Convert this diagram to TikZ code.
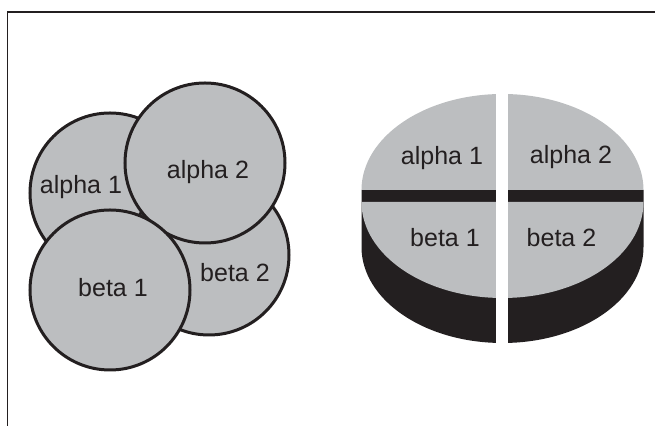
\documentclass[tikz,border=0pt]{standalone}
\usepackage{fontspec}
\setmainfont{Liberation Sans}
\usetikzlibrary{positioning}
\definecolor{ink}{HTML}{231F20}
\definecolor{disk}{HTML}{BCBEC0}

\begin{document}
\begin{tikzpicture}[x = .5pt, y = -.5pt, lbl/.style={inner sep = 1 pt, text = ink, font = \fontsize{12.5}{15}\selectfont}, cell/.style={fill = disk, draw = ink, line width = 1.5pt}]
\useasboundingbox (0,0) rectangle (655,426);
\draw[ink, line width = .75pt] (7.5,426) -- (7.5,12) -- (655,12);
%left: overlapping circles
\filldraw[cell] (110,193) circle (40pt);
\filldraw[cell] (209,255) circle (40pt);
\filldraw[cell] (205,163) circle (40pt);
\filldraw[cell] (110,290) circle (40pt);
\path (81,187) node[lbl] (la1) {alpha 1};
\path (208,172) node[lbl] (la2) {alpha 2};
\path (113,288) node[lbl] (lb1) {beta 1};
\path (235,273) node[lbl] (lb2) {beta 2};

%right: split disk
\fill[ink] (361.5,190) -- (361.5,247) arc[start angle = 180, end angle = 360, x radius = 70.5pt, y radius = 48pt] -- (643.5,190) -- cycle;
\fill[disk] (361.5,190) arc[start angle = 180, end angle = 0, x radius = 70.5pt, y radius = 48pt] -- cycle;
\fill[disk] (361.5,202) arc[start angle = 180, end angle = 360, x radius = 70.5pt, y radius = 48pt] -- cycle;
\fill[white] (495.7,88) rectangle (508.3,348);
\path (442,158) node[lbl] (ra1) {alpha 1};
\path (571,157) node[lbl] (ra2) {alpha 2};
\path (445,238) node[lbl] (rb1) {beta 1};
\path (561.5,238) node[lbl] (rb2) {beta 2};
\end{tikzpicture}
\end{document}
